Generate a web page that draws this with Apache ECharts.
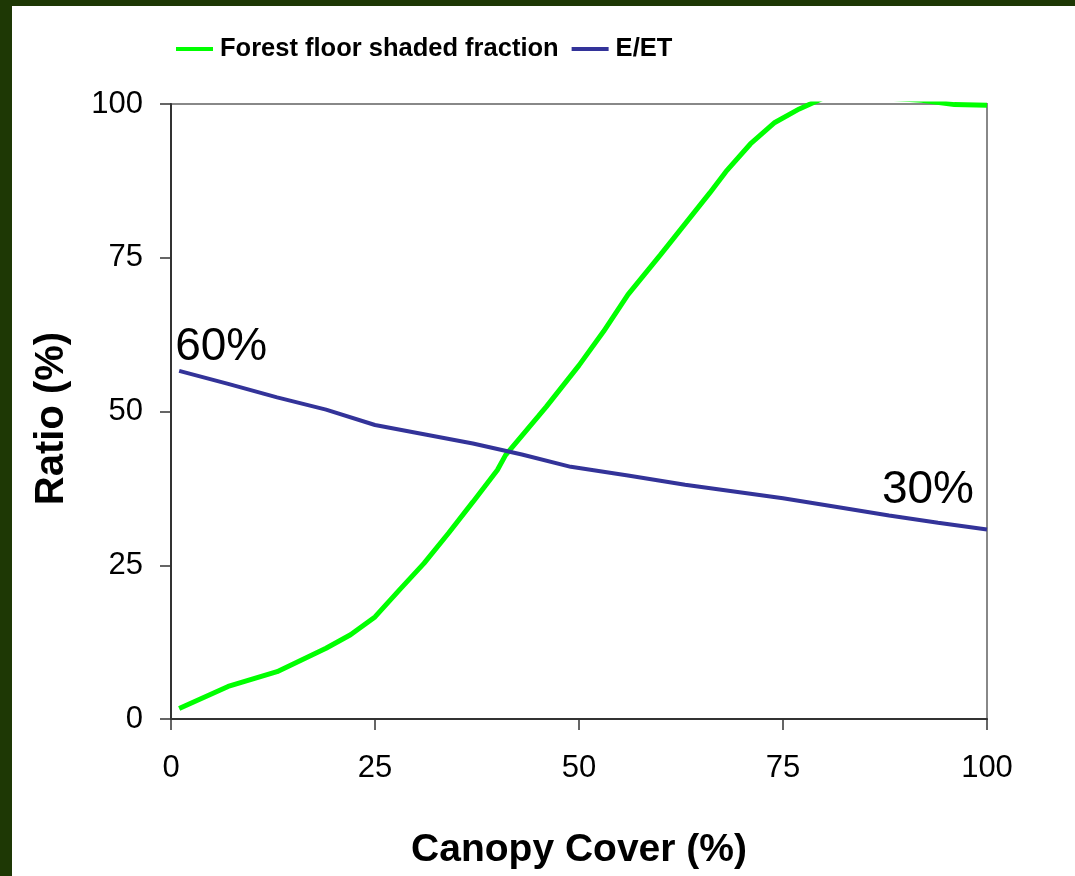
<!DOCTYPE html>
<html>
<head>
<meta charset="utf-8">
<script src="https://cdn.jsdelivr.net/npm/echarts@6/dist/echarts.min.js"></script>
<style>
  html, body { margin: 0; padding: 0; width: 1075px; height: 876px; background: #1e3805; overflow: hidden; }
  #chart { position: absolute; left: 12px; top: 6px; width: 1063px; height: 870px; background: #ffffff; }
</style>
</head>
<body>
<div id="chart"></div>
<script>
// Data
const shadedX = [1, 7, 13, 16, 19, 22, 25, 28, 31, 34, 37, 40, 41, 45, 46, 50, 53, 56, 60, 63, 66, 68, 71, 74, 77, 80, 85, 92, 96, 100];
const shadedY = [1.7, 5.3, 7.7, 9.6, 11.5, 13.7, 16.6, 21, 25.3, 30.2, 35.3, 40.5, 42.9, 49.2, 50.8, 57.5, 63, 69, 75.5, 80.5, 85.5, 89, 93.5, 97, 99.2, 101, 101.2, 100.6, 99.9, 99.8];
const eetX = [1, 7, 13, 19, 25, 31, 37, 43, 49, 56, 63, 69, 75, 82, 88, 94, 100];
const eetY = [56.6, 54.5, 52.3, 50.3, 47.8, 46.3, 44.8, 43.0, 41.0, 39.6, 38.1, 37.0, 35.9, 34.4, 33.1, 31.9, 30.8];
const seriesNames = ['Forest floor shaded fraction', 'E/ET'];
const annotations = ['60%', '30%'];
const xTicks = [0, 25, 50, 75, 100];
const yTicks = [0, 25, 50, 75, 100];

const zip = (xs, ys) => xs.map((x, i) => [x, ys[i]]);
const tickFont = { fontFamily: 'Liberation Sans, Arial, sans-serif', fontSize: 31, color: '#000' };

const chart = echarts.init(document.getElementById('chart'));
chart.setOption({
  backgroundColor: '#ffffff',
  animation: false,
  legend: {
    left: 164, top: 30, padding: 0,
    itemWidth: 37, itemHeight: 4, itemGap: 13,
    icon: 'rect',
    textStyle: { fontFamily: 'Liberation Sans, Arial, sans-serif', fontWeight: 'bold', fontSize: 25.5, color: '#000', padding: [0, 0, 0, 2] },
    data: seriesNames
  },
  grid: { left: 159, right: 88, top: 98, bottom: 157, show: true, borderColor: '#888', borderWidth: 2, backgroundColor: 'transparent' },
  xAxis: {
    type: 'value', min: 0, max: 100, interval: 25,
    name: 'Canopy Cover (%)', nameLocation: 'middle', nameGap: 112,
    nameTextStyle: { fontFamily: 'Liberation Sans, Arial, sans-serif', fontWeight: 'bold', fontSize: 39, color: '#000' },
    axisLine: { show: true, lineStyle: { color: '#333', width: 2 } },
    axisTick: { show: true, inside: false, length: 11, lineStyle: { color: '#333', width: 1.5 } },
    axisLabel: Object.assign({ margin: 34, formatter: v => xTicks.includes(v) ? String(v) : '' }, tickFont),
    splitLine: { show: false }
  },
  yAxis: {
    type: 'value', min: 0, max: 100, interval: 25,
    name: 'Ratio (%)', nameLocation: 'middle', nameGap: 99,
    nameTextStyle: { fontFamily: 'Liberation Sans, Arial, sans-serif', fontWeight: 'bold', fontSize: 40, color: '#000', padding: [0, 14, 0, 0] },
    axisLine: { show: true, lineStyle: { color: '#333', width: 2 } },
    axisTick: { show: true, inside: false, length: 11, lineStyle: { color: '#333', width: 1.5 } },
    axisLabel: Object.assign({ margin: 28, formatter: v => yTicks.includes(v) ? String(v) : '' }, tickFont),
    splitLine: { show: false }
  },
  series: [
    {
      name: seriesNames[0], type: 'line', data: zip(shadedX, shadedY),
      showSymbol: false, symbol: 'none', clip: true,
      lineStyle: { color: '#00ff00', width: 5 }, itemStyle: { color: '#00ff00' }, z: 3
    },
    {
      name: seriesNames[1], type: 'line', data: zip(eetX, eetY),
      showSymbol: false, symbol: 'none',
      lineStyle: { color: '#333399', width: 4 }, itemStyle: { color: '#333399' }, z: 3,
      markPoint: {
        symbol: 'circle', symbolSize: 1,
        itemStyle: { color: 'rgba(0,0,0,0)' },
        label: { show: true, fontFamily: 'Liberation Sans, Arial, sans-serif', fontSize: 46, color: '#000' },
        data: [
          { coord: [eetX[0], eetY[0]], value: annotations[0],
            label: { formatter: annotations[0], position: 'top', align: 'left', distance: 0, offset: [-4, 0] } },
          { coord: [eetX[eetX.length - 1], eetY[eetY.length - 1]], value: annotations[1],
            label: { formatter: annotations[1], position: 'top', align: 'right', distance: 16, offset: [-13, 0] } }
        ]
      }
    }
  ]
});
</script>
</body>
</html>
